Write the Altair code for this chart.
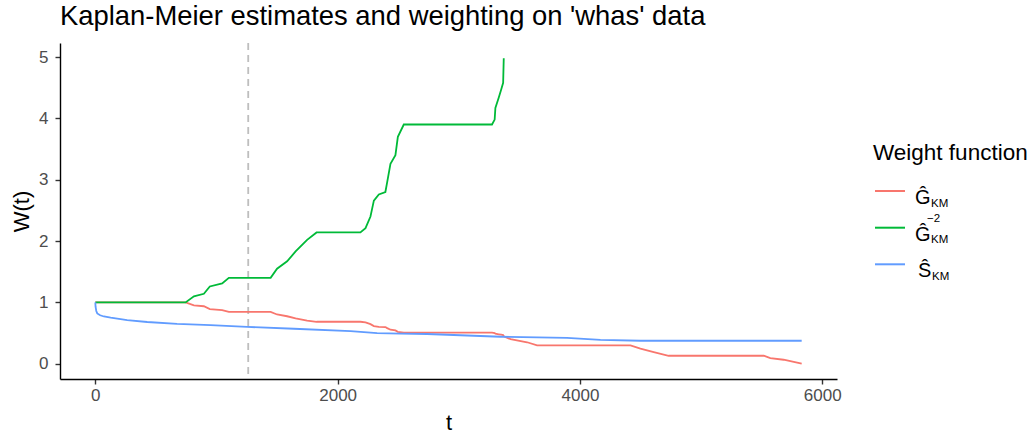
import altair as alt
import pandas as pd

# ---- data ----
ginv2_t = [0, 745, 814, 896, 945, 1047, 1102, 1447, 1500, 1583, 1653, 1748, 1826, 2188, 2230,
           2271, 2299, 2340, 2394, 2409, 2436, 2477, 2497, 2546, 3274, 3296, 3302, 3330, 3350,
           3366, 3371]
ginv2_w = [1.0, 1.0, 1.10, 1.14, 1.26, 1.31, 1.40, 1.40, 1.55, 1.67, 1.83, 2.02, 2.14, 2.14, 2.21,
           2.40, 2.66, 2.76, 2.80, 2.96, 3.26, 3.40, 3.70, 3.90, 3.90, 3.98, 4.17, 4.34, 4.47,
           4.58, 4.98]

gkm_t = [0, 745, 814, 896, 945, 1047, 1102, 1447, 1500, 1583, 1653, 1748, 1826, 2188, 2230,
         2271, 2299, 2340, 2394, 2409, 2436, 2477, 2497, 2546, 3274, 3296, 3302, 3330, 3350,
         3366, 3371, 3427, 3564, 3646, 4417, 4499, 4609, 4732, 5517, 5571, 5681, 5830]
gkm_w = [1.0, 1.0, 0.953, 0.937, 0.891, 0.874, 0.845, 0.845, 0.803, 0.774, 0.739, 0.704, 0.684,
         0.684, 0.673, 0.645, 0.613, 0.602, 0.598, 0.581, 0.554, 0.542, 0.520, 0.506, 0.506,
         0.501, 0.490, 0.480, 0.473, 0.467, 0.448, 0.40, 0.35, 0.30, 0.30, 0.245, 0.19, 0.13,
         0.13, 0.09, 0.065, 0.0]

skm_t = [0, 2, 8, 16, 40, 71, 127, 263, 428, 675, 951, 1253, 1639, 2107, 2326, 2519, 2738,
         3069, 3344, 3893, 4169, 4499, 5830]
skm_w = [1.0, 0.93, 0.86, 0.82, 0.79, 0.77, 0.75, 0.71, 0.68, 0.65, 0.63, 0.60, 0.57, 0.53,
         0.50, 0.49, 0.485, 0.46, 0.44, 0.42, 0.39, 0.375, 0.375]

series = ["G_KM", "G_KM^-2", "S_KM"]
colors = ["#F8766D", "#00BA38", "#619CFF"]
vline_t = [1262]

frames = []
for name, ts, ws in [("G_KM", gkm_t, gkm_w), ("G_KM^-2", ginv2_t, ginv2_w), ("S_KM", skm_t, skm_w)]:
    frames.append(pd.DataFrame({"t": ts, "w": ws, "series": name, "ord": range(len(ts))}))
df = pd.concat(frames, ignore_index=True)

FONT = "Liberation Sans"

xscale = alt.Scale(domain=[-291.5, 6121.5], nice=False, zero=False)
yscale = alt.Scale(domain=[-0.249, 5.229], nice=False, zero=False)

vline = alt.Chart(pd.DataFrame({"t": vline_t})).mark_rule(
    strokeDash=[7, 5], color="#BEBEBE", strokeWidth=1.8
).encode(x=alt.X("t:Q", scale=xscale))

lines = alt.Chart(df).mark_line(strokeWidth=1.8, interpolate="linear").encode(
    x=alt.X("t:Q", scale=xscale,
            axis=alt.Axis(values=[0, 2000, 4000, 6000], format="d", title="t", titleX=388.5,
                          titleY=50, titleBaseline="alphabetic", labelPadding=3)),
    y=alt.Y("w:Q", scale=yscale,
            axis=alt.Axis(values=[0, 1, 2, 3, 4, 5], format="d", title="W(t)", titleX=-32,
                          titleY=168, titleBaseline="alphabetic", labelPadding=7)),
    color=alt.Color("series:N", scale=alt.Scale(domain=series, range=colors), legend=None),
    order="ord:Q",
)

one = pd.DataFrame({"k": [0]})


def txt(text, x, y, size, align="left", color="black"):
    return alt.Chart(one).mark_text(
        text=text, font=FONT, fontSize=size, align=align, baseline="alphabetic", color=color
    ).encode(x=alt.value(x), y=alt.value(y))


def sym(y, color):
    return alt.Chart(one).mark_rule(color=color, strokeWidth=2).encode(
        x=alt.value(815), x2=alt.value(845), y=alt.value(y)
    )


legend_layers = [
    txt("Weight function", 813, 117, 22.5),
    sym(148, colors[0]), sym(184.7, colors[1]), sym(221.3, colors[2]),
    txt("Ĝ", 855, 161, 20), txt("KM", 871, 163.5, 11.5),
    txt("Ĝ", 855, 197.7, 20), txt("KM", 871, 200.2, 11.5), txt("−2", 867, 179, 11.5),
    txt("Ŝ", 858, 234.3, 20), txt("KM", 872, 236.8, 11.5),
]

chart = alt.layer(vline, lines, *legend_layers).properties(
    width=777, height=336,
    title=alt.TitleParams("Kaplan-Meier estimates and weighting on 'whas' data", anchor="start",
                          frame="group", font=FONT, fontSize=27.4, fontWeight="normal",
                          color="black", offset=12),
    autosize=alt.AutoSizeParams(type="none"),
    padding={"left": 60, "top": 43, "right": 196, "bottom": 54},
).configure_view(stroke=None).configure_axis(
    grid=False, domainColor="black", domainWidth=1.4, tickColor="#333333", tickWidth=1.4,
    tickSize=5, labelFont=FONT, labelFontSize=17, labelColor="#4D4D4D",
    titleFont=FONT, titleFontSize=22, titleFontWeight="normal", titleColor="black",
)

chart.save("out.html", embed_options={"renderer": "svg", "actions": False})
